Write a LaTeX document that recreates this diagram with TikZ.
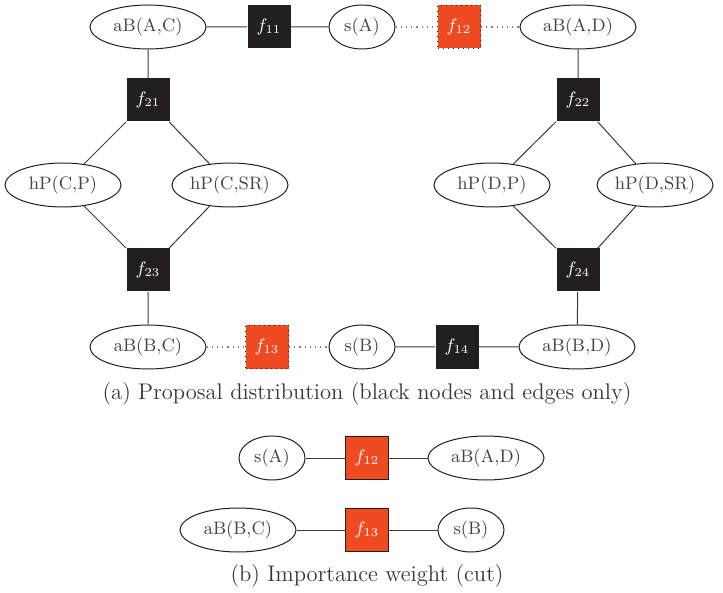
\documentclass[tikz,border=0pt]{standalone}
\usetikzlibrary{shapes.geometric}
\definecolor{fblack}{HTML}{231F20}
\definecolor{forange}{HTML}{F04A23}
\definecolor{edgegray}{HTML}{3A3A3A}
\begin{document}
\begin{tikzpicture}[x=0.5pt,y=-0.5pt,
  var/.style={ellipse,draw=fblack,line width=0.5pt,minimum width=58pt,minimum height=22pt,inner sep=0pt,font=\small,text=fblack!85},
  varS/.style={var,minimum width=33pt},
  fac/.style={rectangle,fill=fblack,minimum size=21.5pt,inner sep=0pt,text=white,font=\small},
  cutfac/.style={rectangle,fill=forange,draw=fblack,dotted,line width=0.5pt,minimum size=21.5pt,inner sep=0pt,text=white,font=\small},
  wfac/.style={rectangle,fill=forange,draw=fblack,line width=0.5pt,minimum size=21.5pt,inner sep=0pt,text=white,font=\small},
  edge/.style={draw=edgegray,line width=0.5pt},
  cutedge/.style={draw=gray,line width=0.6pt,dotted},
  captext/.style={font=\fontsize{11.3}{13.5}\selectfont,text=fblack!90}]
\useasboundingbox (0,0) rectangle (723,593);
% (a)
\node[var] (aBAC) at (148,27) {aB(A,C)};
\node[fac] (f11) at (269,27) {$f_{11}$};
\node[varS] (sA) at (362,27) {s(A)};
\node[cutfac] (f12) at (459,27) {$f_{12}$};
\node[var] (aBAD) at (578,27) {aB(A,D)};
\node[fac] (f21) at (148,100) {$f_{21}$};
\node[fac] (f22) at (578,100) {$f_{22}$};
\node[var] (hPCP) at (63,185) {hP(C,P)};
\node[var] (hPCSR) at (230,185) {hP(C,SR)};
\node[var] (hPDP) at (492,185) {hP(D,P)};
\node[var] (hPDSR) at (655,185) {hP(D,SR)};
\node[fac] (f23) at (148,270) {$f_{23}$};
\node[fac] (f24) at (578,270) {$f_{24}$};
\node[var] (aBBC) at (148,347) {aB(B,C)};
\node[cutfac] (f13) at (267,347) {$f_{13}$};
\node[varS] (sB) at (362,347) {s(B)};
\node[fac] (f14) at (457,347) {$f_{14}$};
\node[var] (aBBD) at (577,347) {aB(B,D)};
\node[captext] (capa) at (367,394) {(a) Proposal distribution (black nodes and edges only)};
\path[edge] (aBAC) -- (f11) (f11) -- (sA) (aBAC) -- (f21) (aBAD) -- (f22)
  (f21) -- (hPCP) (f21) -- (hPCSR) (f22) -- (hPDP) (f22) -- (hPDSR)
  (hPCP) -- (f23) (hPCSR) -- (f23) (hPDP) -- (f24) (hPDSR) -- (f24)
  (f23) -- (aBBC) (f24) -- (aBBD) (sB) -- (f14) (f14) -- (aBBD);
\path[cutedge] (sA) -- (f12) (f12) -- (aBAD) (aBBC) -- (f13) (f13) -- (sB);
% (b)
\node[varS] (bsA) at (272,458) {s(A)};
\node[wfac] (bf12) at (367,458) {$f_{12}$};
\node[var] (baBAD) at (486,458) {aB(A,D)};
\node[var] (baBBC) at (238,530) {aB(B,C)};
\node[wfac] (bf13) at (367,530) {$f_{13}$};
\node[varS] (bsB) at (471,530) {s(B)};
\node[captext] (capb) at (367,576) {(b) Importance weight (cut)};
\path[edge] (bsA) -- (bf12) (bf12) -- (baBAD) (baBBC) -- (bf13) (bf13) -- (bsB);
\end{tikzpicture}
\end{document}
